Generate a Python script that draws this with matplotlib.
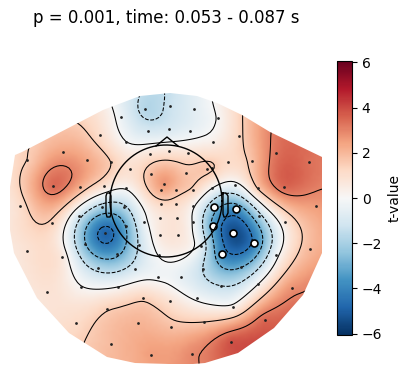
import numpy as np
import matplotlib
matplotlib.use('Agg')
import matplotlib.pyplot as plt
from matplotlib.patches import Polygon

# sensors: x, y, t-value (y runs downward, image-like)
sensor_x = [27, 63, 87, 111, 100, 121, 145, 148, 126, 169, 150, 169, 130, 151, 53, 80, 104, 126, 164, 161,
            20, 52, 79, 102, 124, 144, 161, 160, 126, 27, 62, 85, 105, 117, 98, 139, 135, 160, 159, 158,
            81, 118, 47, 143, 107, 76, 138, 111, 151, 170, 170, 194, 218, 190, 213, 239, 276, 309, 188, 228,
            252, 212, 207, 186, 284, 258, 235, 212, 176, 193, 176, 193, 316, 177, 193, 285, 259, 178, 201, 310,
            276, 241, 203, 181, 221, 258, 292, 197, 233, 204, 265, 171, 231, 192]
sensor_y = [160, 152, 160, 162, 135, 117, 109, 131, 142, 129, 154, 151, 169, 174, 186, 187, 186, 188, 184, 190,
            206, 223, 216, 207, 207, 222, 204, 218, 226, 251, 257, 244, 233, 254, 268, 245, 269, 235, 255, 277,
            287, 287, 292, 298, 309, 323, 323, 344, 355, 301, 106, 109, 118, 131, 142, 136, 153, 162, 153, 162,
            161, 168, 169, 173, 187, 188, 185, 188, 190, 190, 204, 206, 206, 218, 222, 222, 216, 235, 246, 249,
            255, 267, 269, 277, 286, 284, 288, 298, 307, 322, 320, 327, 342, 354]
sensor_t = [1.3, 2.4, 2.3, 1.6, 1.0, -0.3, -1.9, -1.0, -0.1, -1.0, 0.9, 0.8, 0.9, 1.9, 3.7, 2.2, 1.0, 0.0, 3.1, 2.3,
            1.0, 1.4, -1.2, -2.0, -1.8, -0.1, 1.1, 0.5, -3.0, 0.8, 0.8, -3.0, -5.3, -3.3, -1.8, -1.3, -1.0, 0.7, 0.1, -0.3,
            0.0, 0.0, 0.9, 1.5, 1.5, 1.1, 2.0, 1.9, 2.6, 0.9, -1.2, -0.6, 0.0, -0.5, 0.3, 1.3, 3.3, 3.3, 0.9, 1.1,
            1.6, 1.8, 1.8, 1.5, 3.6, 1.9, -0.4, 0.0, 1.7, 1.6, 1.0, 0.1, 2.5, 0.8, 0.1, 0.6, -1.9, 0.7, -0.1, 2.0,
            -0.2, -3.0, -1.6, -0.6, -1.4, 0.0, 2.8, -0.2, 0.0, 1.5, 3.7, 1.7, 4.1, 3.0]

# significant sensors
hi_x = [214, 236, 213, 233, 254, 222]
hi_y = [207, 209, 226, 233, 243, 254]
hi_t = [-2.5, -4.0, -3.6, -5.5, -4.5, -4.2]

# outline of the interpolated area and the values seen along it
hull_x = [15, 22, 78, 103, 140, 170, 197, 217, 242, 270, 322, 322, 303, 274, 238, 205, 193, 169, 135, 107, 69, 37, 14, 10, 10]
hull_y = [155, 152, 123, 110, 96, 93, 96, 103, 115, 132, 157, 253, 295, 328, 353, 363, 364, 364, 363, 357, 333, 298, 253, 230, 187]
hull_t = [1.3, 1.4, 1.5, 0.6, -1.5, -1.4, -0.5, 0.2, 1.5, 3.0, 3.2, 2.2, 3.0, 3.5, 3.8, 3.0, 2.9, 2.5, 2.2, 1.9, 1.2, 0.7, 0.7, 0.8, 1.0]

# head drawing
head_cx, head_cy, head_r = 166, 201, 56
nose_x = [156, 167, 178]
nose_y = [146, 137, 146]
ear_l_x = [110, 107, 106, 106, 107, 110, 111, 111, 110]
ear_r_x = [223, 226, 228, 228, 226, 224, 223, 223, 223]
ear_y = [193, 193, 196, 213, 217, 217, 214, 196, 193]

levels = [-4.5, -3, -1.5, 0, 1.5, 3, 4.5]
vlim = 6.06

W, H = 410, 374
fig = plt.figure(figsize=(W / 100, H / 100), dpi=100)
ax = fig.add_axes([0, 0, 1, 1])
ax.set_xlim(0, W)
ax.set_ylim(H, 0)
ax.axis('off')

# biharmonic spline through the sensors, same idea as mne topomaps
px = np.array(sensor_x + hi_x + hull_x, float)
py = np.array(sensor_y + hi_y + hull_y, float)
pv = np.array(sensor_t + hi_t + hull_t, float)


def green(r):
    r = r / 100.0
    out = np.zeros_like(r)
    ok = r > 0
    out[ok] = r[ok] ** 2 * (np.log(r[ok]) - 1)
    return out


G = green(np.hypot(px[:, None] - px[None, :], py[:, None] - py[None, :]))
n = len(px)
A = np.zeros((n + 1, n + 1))
A[:n, :n] = G + np.eye(n) * 0.02
A[:n, n] = 1
A[n, :n] = 1
sol = np.linalg.solve(A, np.append(pv, 0))

gx = np.arange(0, W + 1, 3.0)
gy = np.arange(60, H + 1, 3.0)
XX, YY = np.meshgrid(gx, gy)
ZZ = green(np.hypot(XX[..., None] - px, YY[..., None] - py)) @ sol[:n] + sol[n]

clip = Polygon(np.column_stack([hull_x, hull_y]), closed=True, transform=ax.transData,
               fc='none', ec='none')
ax.add_patch(clip)
im = ax.imshow(ZZ, extent=[gx[0], gx[-1], gy[-1], gy[0]], cmap='RdBu_r', vmin=-vlim, vmax=vlim,
               interpolation='bilinear', aspect='auto', zorder=1)
im.set_clip_path(clip)
cs = ax.contour(XX, YY, ZZ, levels=levels, colors='k', linewidths=0.75, zorder=2,
                linestyles=['--' if lv < 0 else '-' for lv in levels])
cs.set_clip_path(clip)

ax.plot(sensor_x, sensor_y, 'o', ms=2, color='#222222', mew=0, zorder=3)
ax.plot(hi_x, hi_y, 'o', ms=5, mfc='w', mec='k', mew=1.2, zorder=4)

theta = np.linspace(0, 2 * np.pi, 200)
ax.plot(head_cx + head_r * np.cos(theta), head_cy + head_r * np.sin(theta), color='k', lw=1, zorder=5)
ax.plot(nose_x, nose_y, color='k', lw=1, zorder=5)
ax.plot(ear_l_x, ear_y, color='k', lw=1, zorder=5)
ax.plot(ear_r_x, ear_y, color='k', lw=1, zorder=5)

ax.text(166, 18, 'p = 0.001, time: 0.053 - 0.087 s', fontsize=12, ha='center', va='center')

cax = fig.add_axes([337 / W, 1 - 335 / H, 15 / W, 274 / H])
cb = fig.colorbar(im, cax=cax)
cb.set_ticks(np.arange(-6, 7, 2))
cb.set_label('t-value')

fig.savefig('out.png', dpi=100)
